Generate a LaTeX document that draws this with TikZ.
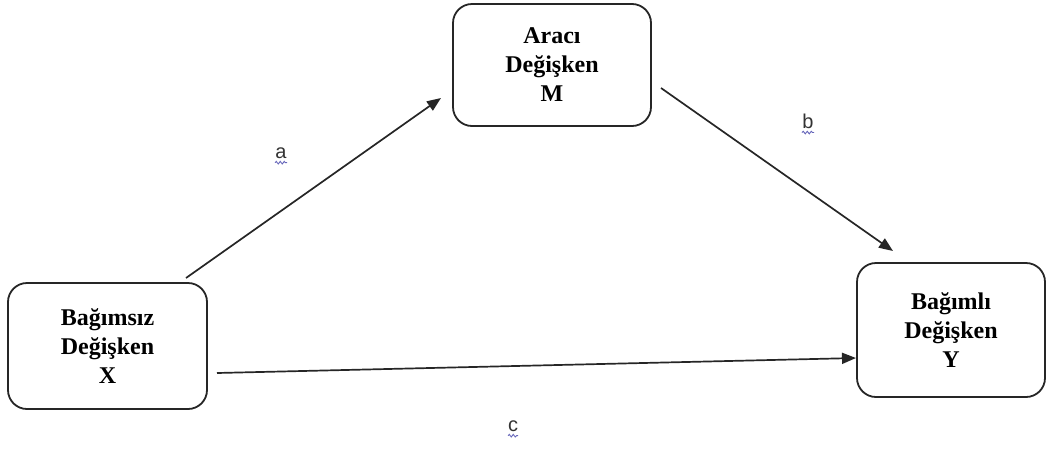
\documentclass[tikz,border=0pt]{standalone}
\usepackage{fontspec}
\setmainfont{Liberation Serif}
\newfontfamily\lblfont{Liberation Sans}
\usetikzlibrary{arrows.meta,decorations.pathmorphing}
\begin{document}
\begin{tikzpicture}[x=1pt,y=-1pt,
  varbox/.style={draw=black!85, line width=1.8pt, rounded corners=19pt, align=center,
    font=\fontsize{24}{29}\selectfont\bfseries, inner sep=0pt},
  conn/.style={draw=black!85, line width=1.7pt, -{Triangle[length=14pt,width=11pt]}},
  lbl/.style={font=\lblfont\fontsize{20}{22}\selectfont, text=black!80, inner sep=0pt},
  squig/.style={draw=blue!55!black!60, line width=0.9pt, decorate,
    decoration={snake, amplitude=1.3pt, segment length=4pt}}
]
\useasboundingbox (0,0) rectangle (1046,448);
\node[varbox, minimum width=198pt, minimum height=122pt] (M) at (552,65) {Aracı\\Değişken\\M};
\node[varbox, minimum width=199pt, minimum height=126pt] (X) at (107.5,346) {Bağımsız\\Değişken\\X};
\node[varbox, minimum width=188pt, minimum height=134pt] (Y) at (951,330) {Bağımlı\\Değişken\\Y};
\coordinate (aS) at (186,278);
\coordinate (aE) at (441,98);
\coordinate (bS) at (661,88);
\coordinate (bE) at (893,251);
\coordinate (cS) at (217,373);
\coordinate (cE) at (856,358);
\draw[conn] (aS) -- (aE);
\draw[conn] (bS) -- (bE);
\draw[conn] (cS) -- (cE);
\node[lbl] (la) at (281,153) {a};
\node[lbl] (lb) at (808,121) {b};
\node[lbl] (lc) at (513,426) {c};
\draw[squig] ([xshift=-6pt,yshift=-4pt]la.south) -- ([xshift=6pt,yshift=-4pt]la.south);
\draw[squig] ([xshift=-6pt,yshift=-4pt]lb.south) -- ([xshift=6pt,yshift=-4pt]lb.south);
\draw[squig] ([xshift=-5pt,yshift=-4pt]lc.south) -- ([xshift=5pt,yshift=-4pt]lc.south);
\end{tikzpicture}
\end{document}
